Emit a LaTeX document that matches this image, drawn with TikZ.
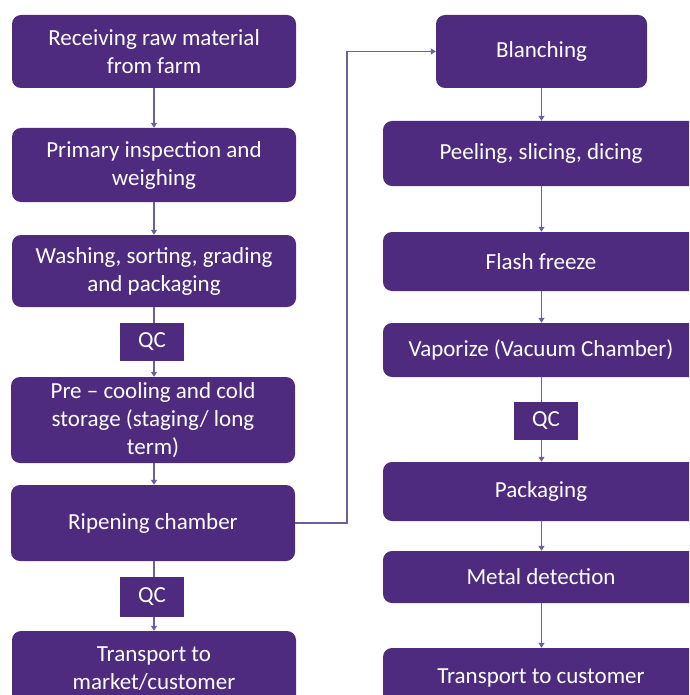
\documentclass[tikz,border=0pt]{standalone}
\usepackage{fontspec}
\setmainfont{Carlito}
\usetikzlibrary{arrows.meta}
\definecolor{boxpurple}{HTML}{4E2B7F}
\definecolor{linkpurple}{HTML}{6E5E9A}
\begin{document}
\begin{tikzpicture}[x=1pt,y=-1pt,
  box/.style={fill=boxpurple, rounded corners=9pt, text=white, align=center,
    font=\fontsize{23}{28}\selectfont, inner sep=0pt},
  qcbox/.style={fill=boxpurple, text=white, align=center,
    font=\fontsize{23}{28}\selectfont, inner sep=0pt, minimum width=64pt},
  link/.style={draw=linkpurple, line width=1.1pt},
  arr/.style={link, -{Triangle[length=5pt,width=6pt]}}]
\useasboundingbox (0,0) rectangle (689,695);
\clip (0,0) rectangle (689,695);
% left column
\node[box, minimum width=284pt, minimum height=73pt] (recv) at (154,51.5) {Receiving raw material\\from farm};
\node[box, minimum width=284pt, minimum height=74pt] (insp) at (154,165) {Primary inspection and\\weighing};
\node[box, minimum width=284pt, minimum height=72pt] (wash) at (154,271) {Washing, sorting, grading\\and packaging};
\node[qcbox, minimum height=38pt] (qc1) at (152,342) {QC};
\node[box, minimum width=284pt, minimum height=86pt] (pre) at (153,420) {Pre – cooling and cold\\storage (staging/ long\\term)};
\node[box, minimum width=284pt, minimum height=76pt] (ripe) at (153,523) {Ripening chamber};
\node[qcbox, minimum height=40pt] (qc2) at (152,597) {QC};
\node[box, minimum width=284pt, minimum height=76pt] (trl) at (154,669) {Transport to\\market/customer};
% right column
\node[box, minimum width=211pt, minimum height=73pt] (blan) at (541.5,51.5) {Blanching};
\node[box, minimum width=316pt, minimum height=65pt] (peel) at (541,153.5) {Peeling, slicing, dicing};
\node[box, minimum width=316pt, minimum height=59pt] (flash) at (541,261.5) {Flash freeze};
\node[box, minimum width=316pt, minimum height=54pt] (vap) at (541,350) {Vaporize (Vacuum Chamber)};
\node[qcbox, minimum height=38pt] (qc3) at (546,421) {QC};
\node[box, minimum width=316pt, minimum height=59pt] (pack) at (541,491.5) {Packaging};
\node[box, minimum width=316pt, minimum height=52pt] (metal) at (541,577) {Metal detection};
\node[box, minimum width=316pt, minimum height=60pt] (trr) at (541,678) {Transport to customer};
% connectors left
\draw[arr] (recv.south) -- (insp.north);
\draw[arr] (insp.south) -- (wash.north);
\draw[link] (wash.south) -- (wash.south |- qc1.north);
\draw[arr] (wash.south |- qc1.south) -- (wash.south |- pre.north);
\draw[arr] (pre.south -| wash.south) -- (wash.south |- ripe.north);
\draw[link] (ripe.south -| wash.south) -- (wash.south |- qc2.north);
\draw[arr] (wash.south |- qc2.south) -- (wash.south |- trl.north);
% cross connector
\coordinate (bend) at (347,523);
\draw[arr] (ripe.east) -- (bend) |- (blan.west);
% connectors right
\draw[arr] (blan.south) -- (blan.south |- peel.north);
\draw[arr] (blan.south |- peel.south) -- (blan.south |- flash.north);
\draw[arr] (blan.south |- flash.south) -- (blan.south |- vap.north);
\draw[link] (blan.south |- vap.south) -- (blan.south |- qc3.north);
\draw[arr] (blan.south |- qc3.south) -- (blan.south |- pack.north);
\draw[arr] (blan.south |- pack.south) -- (blan.south |- metal.north);
\draw[arr] (blan.south |- metal.south) -- (blan.south |- trr.north);
\end{tikzpicture}
\end{document}
